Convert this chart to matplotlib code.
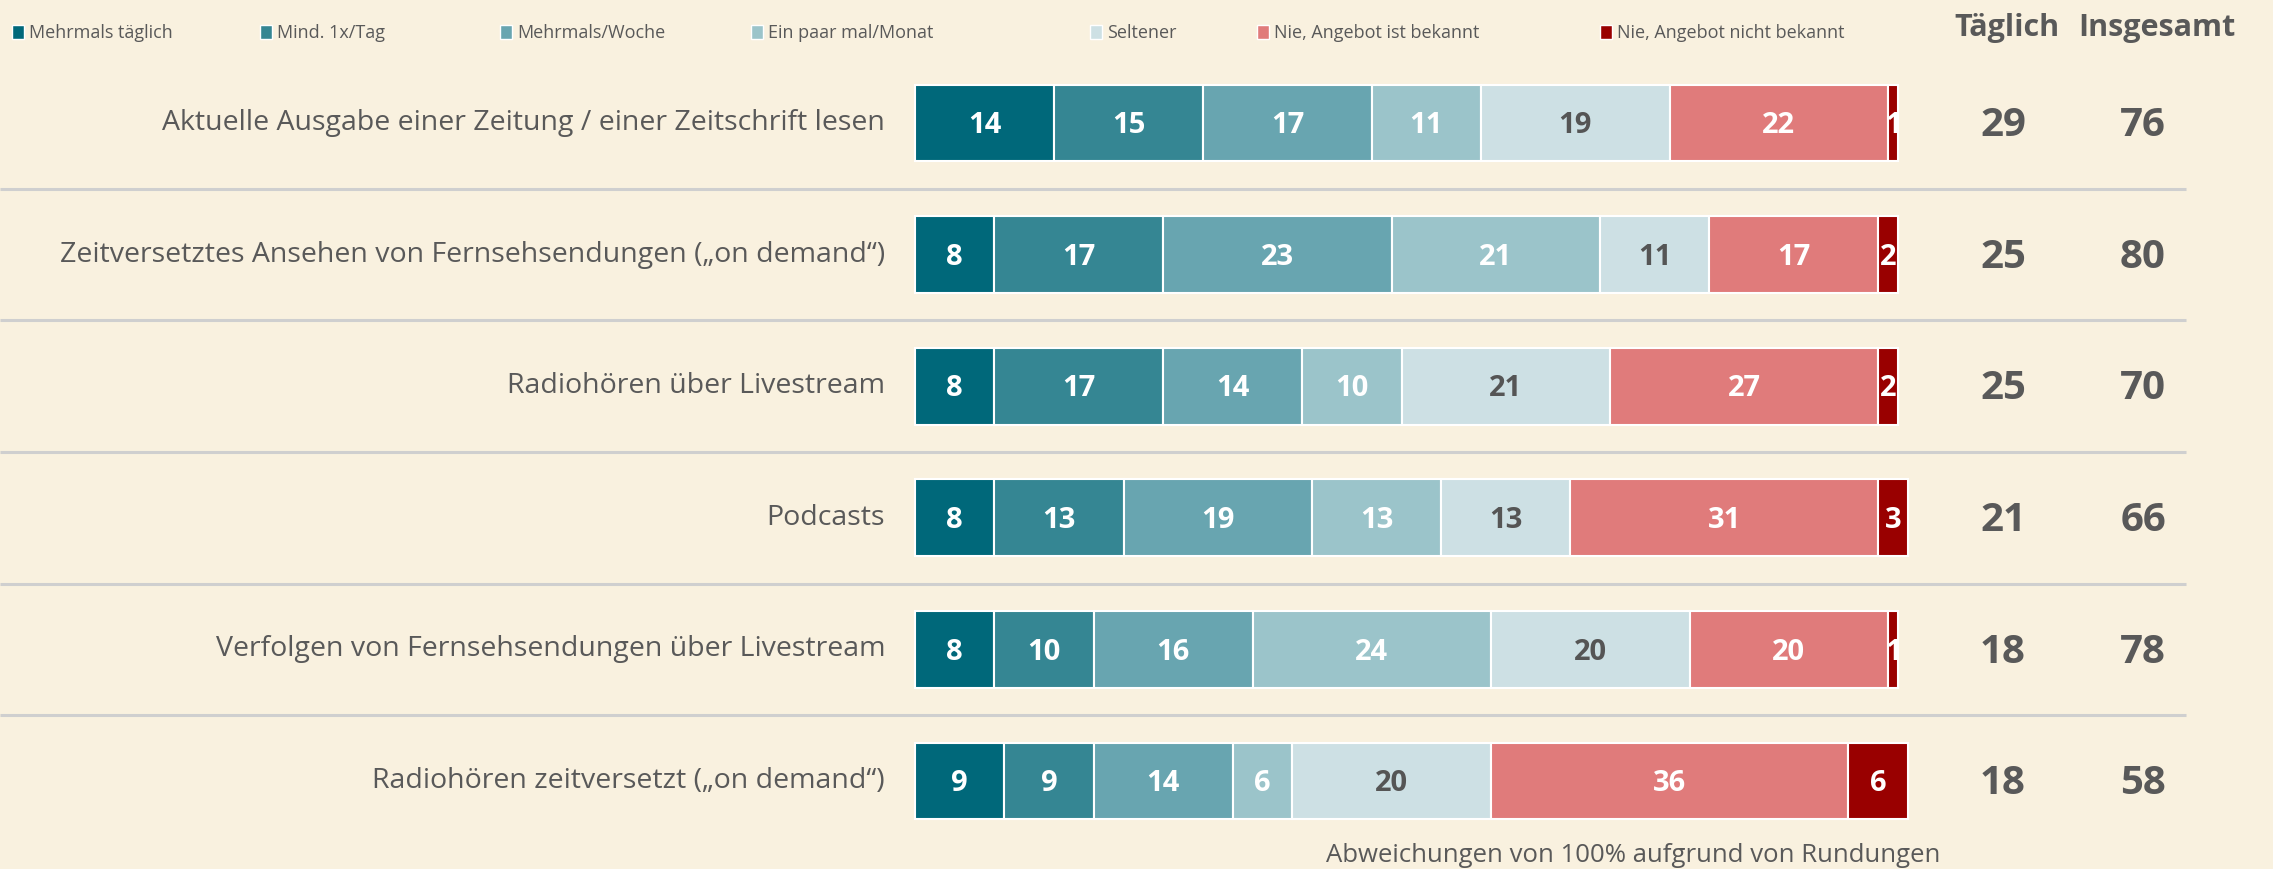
import numpy as np
import matplotlib
matplotlib.use("Agg")
import matplotlib.pyplot as plt
from matplotlib.patches import Rectangle

# --- data ---
categories = [
    "Aktuelle Ausgabe einer Zeitung / einer Zeitschrift lesen",
    "Zeitversetztes Ansehen von Fernsehsendungen (\u201eon demand\u201c)",
    "Radioh\u00f6ren \u00fcber Livestream",
    "Podcasts",
    "Verfolgen von Fernsehsendungen \u00fcber Livestream",
    "Radioh\u00f6ren zeitversetzt (\u201eon demand\u201c)",
]
series_names = [
    "Mehrmals t\u00e4glich", "Mind. 1x/Tag", "Mehrmals/Woche", "Ein paar mal/Monat",
    "Seltener", "Nie, Angebot ist bekannt", "Nie, Angebot nicht bekannt",
]
mehrmals_taeglich = [14, 8, 8, 8, 8, 9]
mind_1x_tag = [15, 17, 17, 13, 10, 9]
mehrmals_woche = [17, 23, 14, 19, 16, 14]
paar_mal_monat = [11, 21, 10, 13, 24, 6]
seltener = [19, 11, 21, 13, 20, 20]
nie_bekannt = [22, 17, 27, 31, 20, 36]
nie_nicht_bekannt = [1, 2, 2, 3, 1, 6]
taeglich = [29, 25, 25, 21, 18, 18]
insgesamt = [76, 80, 70, 66, 78, 58]

colors = ["#00687a", "#358693", "#68a5b0", "#9bc4ca", "#cde0e4", "#e07b7b", "#990000"]
label_colors = ["white", "white", "white", "white", "#555555", "white", "white"]
BG = "#f9f1df"
TXT = "#595959"

W, H, DPI = 2273, 869, 100
fig = plt.figure(figsize=(W / DPI, H / DPI), dpi=DPI, facecolor=BG)
ax = fig.add_axes([0, 0, 1, 1])
ax.set_facecolor(BG)

# pixel layout -> data coordinates
x0_px, px_per_unit = 915, 9.93
row0_px, row_px = 123, 131.6
ax.set_xlim(-x0_px / px_per_unit, (W - x0_px) / px_per_unit)
ax.set_ylim((H - row0_px) / row_px, -row0_px / row_px)
ax.axis("off")

def px_x(p):
    return (p - x0_px) / px_per_unit

def px_y(p):
    return (p - row0_px) / row_px

plt.rcParams["font.family"] = ["Open Sans", "DejaVu Sans"]

series = [mehrmals_taeglich, mind_1x_tag, mehrmals_woche, paar_mal_monat,
          seltener, nie_bekannt, nie_nicht_bekannt]
y = np.arange(len(categories))
left = np.zeros(len(categories))
bar_labels = []
for vals, col, lc in zip(series, colors, label_colors):
    vals = np.array(vals, dtype=float)
    ax.barh(y, vals, left=left, height=0.585, color=col, edgecolor="white", linewidth=1.5)
    for yi, l, v in zip(y, left, vals):
        bar_labels.append((l + v / 2, yi, int(v), lc))
    left += vals

# labels drawn after all bars so thin slivers keep their number visible
for bx, by, v, lc in bar_labels:
    ax.text(bx, by + 0.02, f"{v}", ha="center", va="center",
            color=lc, fontsize=21, fontweight="bold", zorder=5)

# separators
for i in range(len(categories) - 1):
    ax.plot([ax.get_xlim()[0], px_x(2186)], [i + 0.5, i + 0.5], color="#cfcfcf",
            lw=2.2, solid_capstyle="butt")

# category labels
for yi, c in zip(y, categories):
    ax.text(px_x(885), yi, c, ha="right", va="center", fontsize=20.5, color=TXT)

# right-hand columns
for yi, t, g in zip(y, taeglich, insgesamt):
    ax.text(px_x(2003), yi + 0.02, str(t), ha="center", va="center",
            fontsize=29, fontweight="bold", color=TXT)
    ax.text(px_x(2143), yi + 0.02, str(g), ha="center", va="center",
            fontsize=29, fontweight="bold", color=TXT)
ax.text(px_x(2007), px_y(28), "T\u00e4glich", ha="center", va="center",
        fontsize=22, fontweight="bold", color=TXT)
ax.text(px_x(2157), px_y(28), "Insgesamt", ha="center", va="center",
        fontsize=22, fontweight="bold", color=TXT)

# legend (manual, to keep the uneven spacing)
legend_x = [12, 260, 500, 751, 1090, 1257, 1600]
for lx, name, col in zip(legend_x, series_names, colors):
    ax.add_patch(Rectangle((px_x(lx), px_y(25)), 12 / px_per_unit, 14 / row_px,
                           facecolor=col, edgecolor="white", lw=1, clip_on=False))
    ax.text(px_x(lx + 17), px_y(33), name, ha="left", va="center",
            fontsize=13, color=TXT)

# footnote
ax.text(px_x(1633), px_y(855), "Abweichungen von 100% aufgrund von Rundungen",
        ha="center", va="center", fontsize=18.5, color=TXT)

fig.savefig("out.png", dpi=DPI, facecolor=BG)
